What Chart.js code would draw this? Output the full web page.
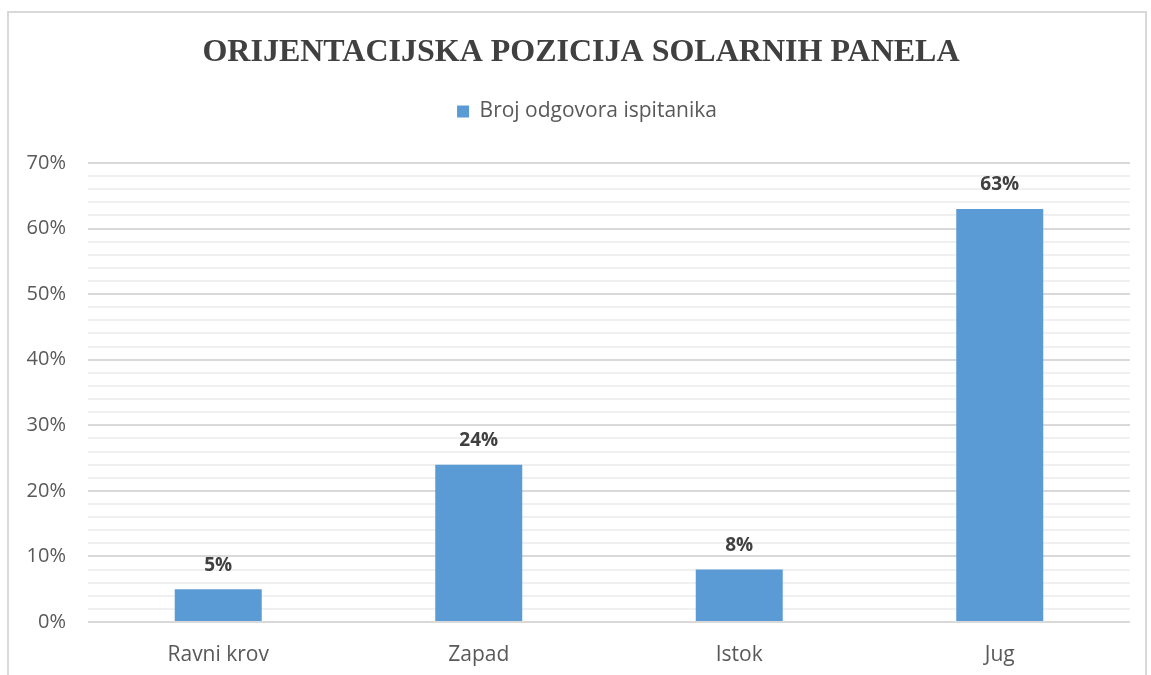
<!DOCTYPE html>
<html>
<head>
<meta charset="utf-8">
<script src="https://cdn.jsdelivr.net/npm/chart.js@4.4.0/dist/chart.umd.min.js"></script>
<style>
  html, body { margin: 0; padding: 0; background: #fff; }
  #frame { position: absolute; left: 7px; top: 11px; width: 1136px; height: 680px; border: 2px solid #d9d9d9; }
  #wrap { position: absolute; left: 0; top: 0; width: 1151px; height: 675px; }
</style>
</head>
<body>
<div id="frame"></div>
<div id="wrap"><canvas id="myChart" width="1151" height="675"></canvas></div>
<script>
// chart data
const categories = ['Ravni krov', 'Zapad', 'Istok', 'Jug'];
const responses = [5, 24, 8, 63];
const seriesName = 'Broj odgovora ispitanika';
const chartTitle = 'ORIJENTACIJSKA POZICIJA SOLARNIH PANELA';

// draw value labels above the bars
const barLabels = {
    id: 'barLabels',
    afterDatasetsDraw(chart) {
        const ctx = chart.ctx;
        const meta = chart.getDatasetMeta(0);
        ctx.save();
        ctx.font = 'bold 19px "Open Sans"';
        ctx.fillStyle = '#404040';
        ctx.textAlign = 'center';
        ctx.textBaseline = 'middle';
        meta.data.forEach((bar, i) => {
            ctx.fillText(responses[i] + '%', bar.x, bar.y - 24);
        });
        ctx.restore();
    }
};

// extra space under the legend, and centre title/legend on the whole frame
const legendSpacing = {
    id: 'legendSpacing',
    beforeInit(chart) {
        const fit = chart.legend.fit;
        chart.legend.fit = function () {
            fit.bind(chart.legend)();
            this.height += 31;
        };
    },
    afterLayout(chart) {
        chart.titleBlock.left += 32;
        chart.legend.left += 44;
    }
};

const ctx = document.getElementById('myChart').getContext('2d');
new Chart(ctx, {
    type: 'bar',
    data: {
        labels: categories,
        datasets: [{
            label: seriesName,
            data: responses,
            backgroundColor: '#5b9bd5',
            borderWidth: 0,
            categoryPercentage: 1,
            barPercentage: 0.334
        }]
    },
    options: {
        responsive: false,
        animation: false,
        layout: { padding: { left: 0, right: 21, top: 0, bottom: 0 } },
        plugins: {
            title: {
                display: true,
                text: chartTitle,
                color: '#404040',
                font: { family: '"Liberation Serif"', size: 32, weight: 'bold', lineHeight: 1 },
                padding: { top: 37, bottom: 0 }
            },
            legend: {
                display: true,
                labels: {
                    color: '#595959',
                    font: { family: '"Open Sans"', size: 21 },
                    boxWidth: 12,
                    boxHeight: 12,
                    padding: 32
                }
            },
            tooltip: { enabled: false }
        },
        scales: {
            x: {
                grid: { display: false },
                border: { display: false },
                afterFit(scale) { scale.height = 53; },
                ticks: {
                    color: '#595959',
                    font: { family: '"Open Sans"', size: 21 },
                    padding: 12
                }
            },
            y: {
                min: 0,
                max: 70,
                border: { display: false },
                afterFit(scale) { scale.width = 88; },
                grid: {
                    drawTicks: false,
                    lineWidth: 2,
                    color: c => (c.tick && c.tick.value % 10 === 0) ? '#d9d9d9' : '#f0f0f0'
                },
                ticks: {
                    stepSize: 2,
                    autoSkip: false,
                    padding: 22,
                    color: '#595959',
                    font: { family: '"Open Sans"', size: 20 },
                    callback: v => (v % 10 === 0) ? v + '%' : ''
                }
            }
        }
    },
    plugins: [barLabels, legendSpacing]
});
</script>
</body>
</html>
